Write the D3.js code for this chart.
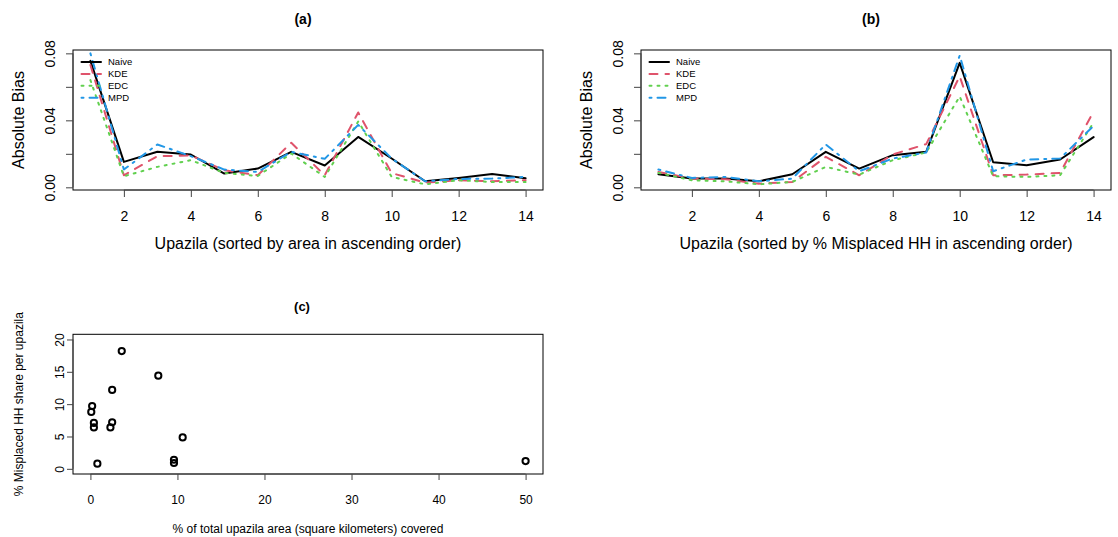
<!DOCTYPE html>
<html>
<head>
<meta charset="utf-8">
<script src="https://cdn.jsdelivr.net/npm/d3@7"></script>
<style>
  html, body { margin: 0; padding: 0; background: #fff; }
  svg { display: block; font-family: "Liberation Sans", Arial, Helvetica, sans-serif; }
</style>
</head>
<body>
<svg id="chart" width="1118" height="537"></svg>
<script>
// ---------------- DATA ----------------
const upazila = [1,2,3,4,5,6,7,8,9,10,11,12,13,14];
const xTicksAB = [2,4,6,8,10,12,14];
const yTicksAB = [0, 0.02, 0.04, 0.06, 0.08];
const yTickLabelsAB = ["0.00", "", "0.04", "", "0.08"];

// Panel (a): sorted by area
const naiveA = [0.0755,0.0152,0.0212,0.0196,0.0082,0.0112,0.0212,0.0130,0.0301,0.0172,0.0036,0.0056,0.0080,0.0054];
const kdeA   = [0.0730,0.0072,0.0186,0.0190,0.0102,0.0072,0.0266,0.0072,0.0447,0.0085,0.0028,0.0042,0.0036,0.0042];
const edcA   = [0.0640,0.0066,0.0122,0.0162,0.0086,0.0068,0.0202,0.0062,0.0393,0.0062,0.0018,0.0042,0.0032,0.0032];
const mpdA   = [0.0800,0.0106,0.0256,0.0186,0.0106,0.0092,0.0212,0.0170,0.0373,0.0172,0.0036,0.0050,0.0052,0.0062];

// Panel (b): sorted by % misplaced HH
const naiveB = [0.0078,0.0052,0.0052,0.0036,0.0078,0.0212,0.0112,0.0192,0.0212,0.0743,0.0150,0.0132,0.0166,0.0300];
const kdeB   = [0.0092,0.0052,0.0048,0.0022,0.0032,0.0182,0.0072,0.0196,0.0258,0.0663,0.0072,0.0076,0.0086,0.0453];
const edcB   = [0.0086,0.0042,0.0036,0.0018,0.0032,0.0122,0.0076,0.0162,0.0208,0.0543,0.0066,0.0062,0.0072,0.0387];
const mpdB   = [0.0106,0.0056,0.0062,0.0036,0.0052,0.0256,0.0096,0.0172,0.0208,0.0787,0.0096,0.0166,0.0172,0.0367];

const seriesNames = ["Naive","KDE","EDC","MPD"];
const seriesColors = ["#000000","#DF536B","#61D04F","#2297E6"];
const seriesDash = [null, "8,8", "2,6", "2,6,8,6"];

// Panel (c): area share vs misplaced share
const areaPct = [0.2,0.1,0.4,0.4,0.8,2.3,2.5,2.5,3.6,7.8,9.6,9.6,10.6,50.0];
const misPct  = [9.7,8.8,7.1,6.4,0.8,6.4,7.2,12.2,18.2,14.4,1.4,0.9,4.85,1.2];
const xTicksC = [0,10,20,30,40,50];
const yTicksC = [0,5,10,15,20];

// ---------------- DRAW ----------------
const svg = d3.select("#chart");
const FONT = "'Liberation Sans', Arial, Helvetica, sans-serif";

function linePanel(opts) {
  const {left, right, top, bottom, data, title, xlabel} = opts;
  const x = d3.scaleLinear().domain([0.48, 14.52]).range([left, right]);
  const y = d3.scaleLinear().domain([-0.0016, 0.082]).range([bottom, top]);
  const g = svg.append("g");

  const line = d3.line().x((d, i) => x(upazila[i])).y(d => y(d));
  data.forEach((vals, k) => {
    g.append("path")
      .datum(vals)
      .attr("d", line)
      .attr("fill", "none")
      .attr("stroke", seriesColors[k])
      .attr("stroke-width", 2)
      .attr("stroke-linecap", "round")
      .attr("stroke-linejoin", "round")
      .attr("stroke-dasharray", seriesDash[k]);
  });

  g.append("rect")
    .attr("x", left).attr("y", top)
    .attr("width", right - left).attr("height", bottom - top)
    .attr("fill", "none").attr("stroke", "#000").attr("stroke-width", 1);

  const xa = g.append("g").attr("transform", `translate(0,${bottom})`)
    .call(d3.axisBottom(x).tickValues(xTicksAB).tickSize(7).tickSizeOuter(0).tickFormat(d3.format("d")));
  xa.select(".domain").attr("d", `M${x(xTicksAB[0])},0H${x(xTicksAB[xTicksAB.length-1])}`).attr("stroke", "#444");
  xa.selectAll(".tick line").attr("stroke", "#444");
  xa.selectAll(".tick text").attr("y", 21).attr("dy", "0.71em").attr("font-size", 14).attr("font-family", FONT).attr("fill", "#000");

  const ya = g.append("g").attr("transform", `translate(${left},0)`)
    .call(d3.axisLeft(y).tickValues(yTicksAB).tickSize(7).tickSizeOuter(0)
      .tickFormat((d, i) => yTickLabelsAB[i]));
  ya.select(".domain").attr("d", `M0,${y(yTicksAB[0])}V${y(yTicksAB[yTicksAB.length-1])}`).attr("stroke", "#444");
  ya.selectAll(".tick line").attr("stroke", "#444");
  ya.selectAll(".tick text")
    .attr("x", null).attr("dy", null)
    .attr("text-anchor", "middle")
    .attr("transform", "translate(-18,0) rotate(-90)")
    .attr("font-size", 14).attr("font-family", FONT).attr("fill", "#000");

  g.append("text").attr("x", (left + right) / 2 - 5).attr("y", 24)
    .attr("text-anchor", "middle").attr("font-weight", "bold").attr("font-size", 14)
    .text(title);
  g.append("text").attr("x", (left + right) / 2).attr("y", 249)
    .attr("text-anchor", "middle").attr("font-size", 16).text(xlabel);
  g.append("text").attr("transform", `translate(${left - 49},${(top + bottom) / 2}) rotate(-90)`)
    .attr("text-anchor", "middle").attr("font-size", 16).text("Absolute Bias");

  const lg = g.append("g");
  seriesNames.forEach((name, k) => {
    const ly = 62 + k * 11.9;
    lg.append("line")
      .attr("x1", left + 8.5).attr("x2", left + 28)
      .attr("y1", ly).attr("y2", ly)
      .attr("stroke", seriesColors[k]).attr("stroke-width", 2)
      .attr("stroke-linecap", "round")
      .attr("stroke-dasharray", seriesDash[k]);
    lg.append("text").attr("x", left + 35).attr("y", ly + 3.4)
      .attr("font-size", 9.5).text(name);
  });
}

linePanel({left: 73, right: 543, top: 50, bottom: 190,
  data: [naiveA, kdeA, edcA, mpdA], title: "(a)",
  xlabel: "Upazila (sorted by area in ascending order)"});
linePanel({left: 641, right: 1111, top: 50, bottom: 190,
  data: [naiveB, kdeB, edcB, mpdB], title: "(b)",
  xlabel: "Upazila (sorted by % Misplaced HH in ascending order)"});

// Panel (c)
(function() {
  const left = 73, right = 543, top = 334.3, bottom = 474;
  const x = d3.scaleLinear().domain([-2, 52]).range([left, right]);
  const y = d3.scaleLinear().domain([-0.8, 20.8]).range([bottom, top]);
  const g = svg.append("g");

  g.selectAll("circle.pt").data(areaPct).enter().append("circle")
    .attr("class", "pt")
    .attr("cx", d => x(d))
    .attr("cy", (d, i) => y(misPct[i]))
    .attr("r", 3.1)
    .attr("fill", "none").attr("stroke", "#000").attr("stroke-width", 2);

  g.append("rect")
    .attr("x", left).attr("y", top)
    .attr("width", right - left).attr("height", bottom - top)
    .attr("fill", "none").attr("stroke", "#000").attr("stroke-width", 1);

  const xa = g.append("g").attr("transform", `translate(0,${bottom})`)
    .call(d3.axisBottom(x).tickValues(xTicksC).tickSize(6).tickSizeOuter(0).tickFormat(d3.format("d")));
  xa.select(".domain").attr("d", `M${x(xTicksC[0])},0H${x(xTicksC[xTicksC.length-1])}`).attr("stroke", "#444");
  xa.selectAll(".tick line").attr("stroke", "#444");
  xa.selectAll(".tick text").attr("y", 21).attr("dy", "0.71em").attr("font-size", 12).attr("font-family", FONT).attr("fill", "#000");

  const ya = g.append("g").attr("transform", `translate(${left},0)`)
    .call(d3.axisLeft(y).tickValues(yTicksC).tickSize(6).tickSizeOuter(0).tickFormat(d3.format("d")));
  ya.select(".domain").attr("d", `M0,${y(yTicksC[0])}V${y(yTicksC[yTicksC.length-1])}`).attr("stroke", "#444");
  ya.selectAll(".tick line").attr("stroke", "#444");
  ya.selectAll(".tick text")
    .attr("x", null).attr("dy", null)
    .attr("text-anchor", "middle")
    .attr("transform", "translate(-9,0) rotate(-90)")
    .attr("font-size", 12).attr("font-family", FONT).attr("fill", "#000");

  g.append("text").attr("x", (left + right) / 2 - 6).attr("y", 311)
    .attr("text-anchor", "middle").attr("font-weight", "bold").attr("font-size", 13)
    .text("(c)");
  g.append("text").attr("x", (left + right) / 2).attr("y", 533)
    .attr("text-anchor", "middle").attr("font-size", 12)
    .text("% of total upazila area (square kilometers) covered");
  g.append("text").attr("transform", `translate(${left - 50},${(top + bottom) / 2}) rotate(-90)`)
    .attr("text-anchor", "middle").attr("font-size", 12)
    .text("% Misplaced HH share per upazila");
})();
</script>
</body>
</html>
